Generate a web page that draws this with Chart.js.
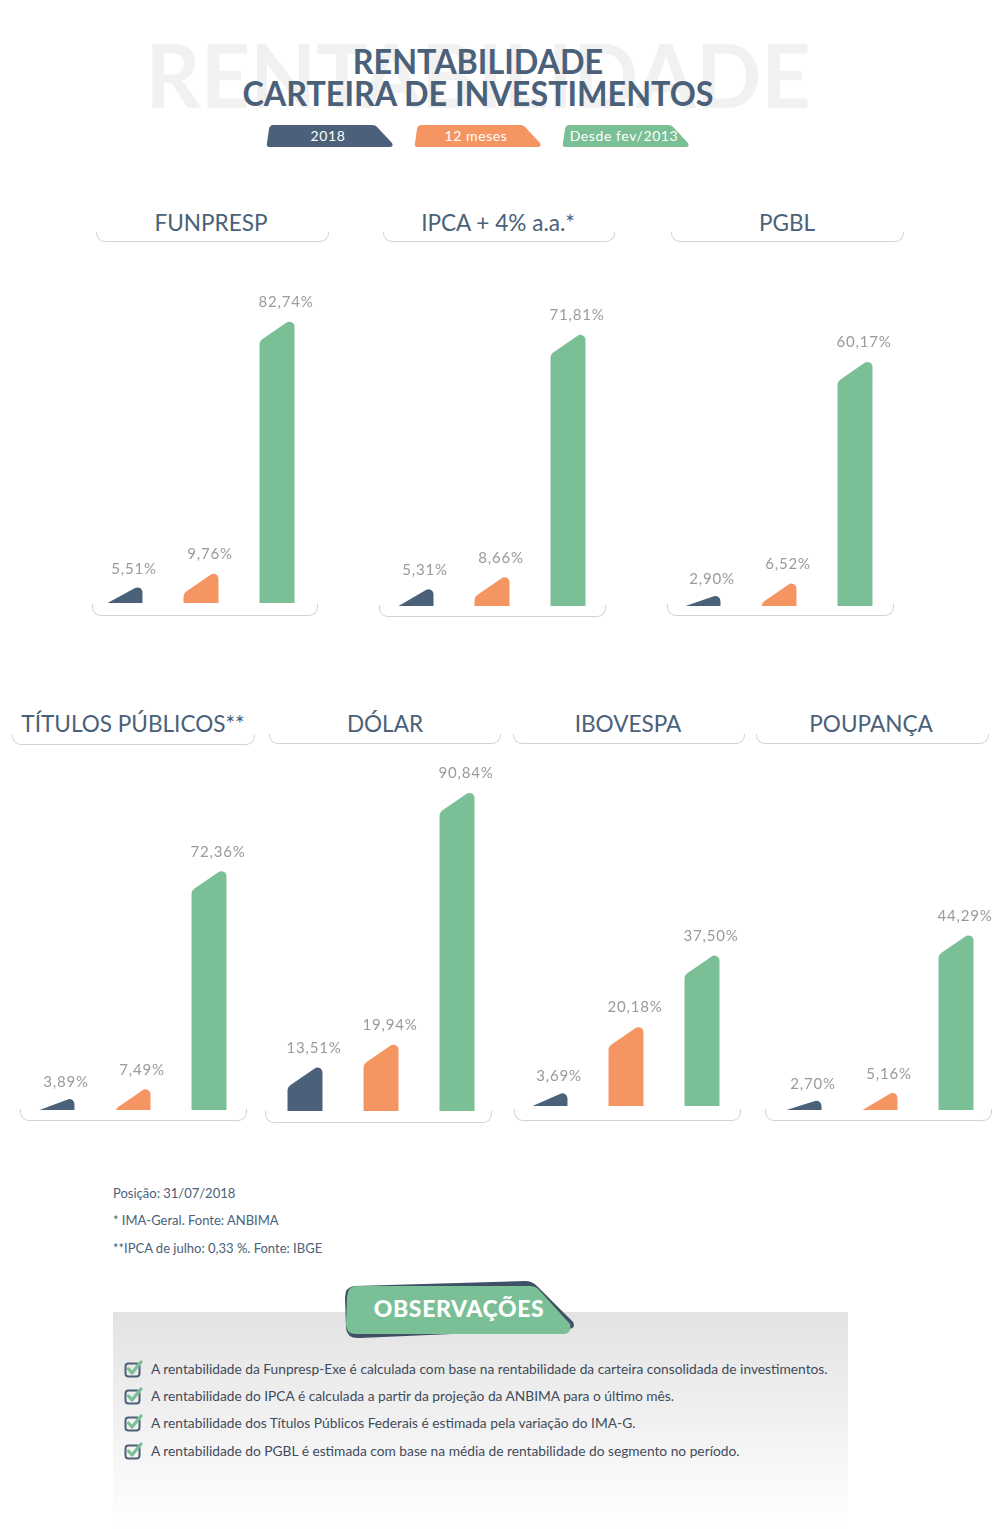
<!DOCTYPE html>
<html lang="pt-BR">
<head>
<meta charset="utf-8">
<title>Rentabilidade - Carteira de Investimentos</title>
<script src="https://cdn.jsdelivr.net/npm/chart.js@4.4.1/dist/chart.umd.min.js"></script>
<style>
  html, body { margin: 0; padding: 0; background: #fff; }
  #page { position: relative; width: 1000px; height: 1529px; overflow: hidden; font-family: Lato, sans-serif; }
  .abs { position: absolute; white-space: nowrap; }
  .watermark { left: 478px; top: 30px; font: 700 88px/88px Lato; color: #f1f1f1; transform: translateX(-50%) scaleX(0.975); }
  .title { left: 478px; font: 700 34px/34px Lato; color: #4a6179; transform: translateX(-50%) scaleX(0.95); }
  .pill { width: 127px; height: 22px; }
  .pill span { position: absolute; left: 0; width: 124px; top: 0; line-height: 22px; text-align: center; color: #fff; font: 400 14px/22px Lato; letter-spacing: 0.6px; }
  .ptitle { font: 400 24px/24px Lato; color: #4a6179; transform: translateX(-50%) scaleX(0.94); }
  .bracket { border: 1.5px solid #d2d2d2; border-top: none; border-radius: 0 0 9px 9px; box-sizing: border-box; }
  .note { font: 400 13px/14px Lato; color: #4a6179; left: 113px; }
  .obs { font: 400 13.75px/14px Lato; color: #3f4b5a; left: 151px; }
  #obsbox { left: 113px; top: 1312px; width: 735px; height: 217px; background: linear-gradient(#e3e3e3, #ffffff); }
  canvas { position: absolute; }
</style>
</head>
<body>
<div id="page">
  <div class="abs watermark">RENTABILIDADE</div>
  <div class="abs title" style="top:44px">RENTABILIDADE</div>
  <div class="abs title" style="top:76px">CARTEIRA DE INVESTIMENTOS</div>
  <div id="obsbox" class="abs"></div>
</div>
<script>
// legend / categories
const categories = ['2018', '12 meses', 'Desde fev/2013'];

// one entry per panel
const panelNames = ['FUNPRESP', 'IPCA + 4% a.a.*', 'PGBL', 'TÍTULOS PÚBLICOS**', 'DÓLAR', 'IBOVESPA', 'POUPANÇA'];
const values2018 = [5.51, 5.31, 2.90, 3.89, 13.51, 3.69, 2.70];
const values12Months = [9.76, 8.66, 6.52, 7.49, 19.94, 20.18, 5.16];
const valuesSince2013 = [82.74, 71.81, 60.17, 72.36, 90.84, 37.50, 44.29];

const notes = [
  'Posição: 31/07/2018',
  '* IMA-Geral. Fonte: ANBIMA',
  '**IPCA de julho: 0,33 %. Fonte: IBGE'
];
const observations = [
  'A rentabilidade da Funpresp-Exe é calculada com base na rentabilidade da carteira consolidada de investimentos.',
  'A rentabilidade do IPCA é calculada a partir da projeção da ANBIMA para o último mês.',
  'A rentabilidade dos Títulos Públicos Federais é estimada pela variação do IMA-G.',
  'A rentabilidade do PGBL é estimada com base na média de rentabilidade do segmento no período.'
];

const colors = ['#4a6179', '#f59562', '#7abf95'];

// layout of each panel (page pixels)
const layout = [
  { left: 86.5, base: 603, max: 110, titleX: 211, titleTop: 210, head: [96, 329, 242], foot: [92, 318, 616] },
  { left: 377.5, base: 606, max: 99, titleX: 498, titleTop: 210, head: [383, 615, 242], foot: [379, 606, 617] },
  { left: 665, base: 606, max: 92, titleX: 787, titleTop: 210, head: [671, 904, 242], foot: [667, 894, 616] },
  { left: 18.5, base: 1110, max: 113, titleX: 133, titleTop: 711, head: [12, 255, 745], foot: [20, 247, 1121] },
  { left: 266.5, base: 1111, max: 107, titleX: 385, titleTop: 711, head: [269, 501, 744], foot: [265, 492, 1123] },
  { left: 511.5, base: 1106, max: 92, titleX: 628, titleTop: 711, head: [513, 745, 744], foot: [514, 741, 1121] },
  { left: 765.5, base: 1110, max: 94, titleX: 871, titleTop: 711, head: [756, 989, 744], foot: [765, 992, 1121] }
];
const canvasHeight = 380;

const page = document.getElementById('page');

function addDiv(cls, style, html) {
  const d = document.createElement('div');
  d.className = 'abs ' + cls;
  d.setAttribute('style', style);
  if (html !== undefined) d.innerHTML = html;
  page.appendChild(d);
  return d;
}

// legend pills
const pillLeft = [266, 414, 562];
categories.forEach((c, i) => {
  addDiv('pill', `left:${pillLeft[i]}px;top:125px`,
    `<svg width="127" height="22" style="position:absolute;left:0;top:0">
      <path d="M7 0 L106 0 Q110 0 112 3 L126 18 Q128 22 123 22 L4 22 Q0 22 1 18 L3 4 Q4 0 7 0 Z" fill="${colors[i]}"/>
    </svg><span>${c}</span>`);
});

// bars with a slanted top-left corner, drawn from the bar elements
const slantedBars = {
  id: 'slantedBars',
  beforeDatasetDraw(chart, args) {
    const ctx = chart.ctx;
    args.meta.data.forEach((bar) => {
      const p = bar.getProps(['x', 'y', 'base', 'width'], true);
      const l = p.x - p.width / 2, r = p.x + p.width / 2;
      const h = p.base - p.y;
      const drop = Math.min(24, h);
      ctx.save();
      ctx.fillStyle = bar.options.backgroundColor;
      ctx.beginPath();
      ctx.moveTo(l, p.base);
      if (drop < h - 1) ctx.arcTo(l, p.y + drop, r, p.y, 7);
      ctx.arcTo(r, p.y, r, p.base, Math.min(5, h / 2));
      ctx.lineTo(r, p.base);
      ctx.closePath();
      ctx.fill();
      ctx.restore();
    });
    return false;
  },
  afterDatasetsDraw(chart) {
    const ctx = chart.ctx;
    const meta = chart.getDatasetMeta(0);
    const data = chart.data.datasets[0].data;
    ctx.save();
    ctx.font = '400 15px Lato';
    ctx.letterSpacing = '0.8px';
    ctx.fillStyle = '#9a9a9a';
    ctx.textAlign = 'center';
    ctx.textBaseline = 'middle';
    meta.data.forEach((bar, i) => {
      const txt = data[i].toFixed(2).replace('.', ',') + '%';
      ctx.fillText(txt, bar.x + 9, bar.y - 15);
    });
    ctx.restore();
  }
};

panelNames.forEach((name, i) => {
  const L = layout[i];
  addDiv('ptitle', `left:${L.titleX}px;top:${L.titleTop}px`, name);
  addDiv('bracket', `left:${L.head[0]}px;top:${L.head[2] - 10}px;width:${L.head[1] - L.head[0]}px;height:10px`);
  addDiv('bracket', `left:${L.foot[0]}px;top:${L.foot[2] - 12}px;width:${L.foot[1] - L.foot[0]}px;height:12px`);

  const canvas = document.createElement('canvas');
  canvas.width = 228;
  canvas.height = canvasHeight;
  canvas.style.left = L.left + 'px';
  canvas.style.top = (L.base - canvasHeight) + 'px';
  page.appendChild(canvas);

  new Chart(canvas, {
    type: 'bar',
    data: {
      labels: categories,
      datasets: [{
        data: [values2018[i], values12Months[i], valuesSince2013[i]],
        backgroundColor: colors,
        barPercentage: 0.46,
        categoryPercentage: 1
      }]
    },
    options: {
      responsive: false,
      animation: false,
      layout: { padding: 0 },
      plugins: { legend: { display: false }, tooltip: { enabled: false } },
      scales: {
        x: { display: false },
        y: { display: false, min: 0, max: L.max }
      }
    },
    plugins: [slantedBars]
  });
});

// footnotes
const noteY = [1193, 1220, 1248];
notes.forEach((n, i) => addDiv('note', `top:${noteY[i] - 7}px`, n));

// observations tab
addDiv('', 'left:340px;top:1278px;width:240px;height:64px',
  `<svg width="240" height="64">
    <path d="M14 8 L185 3 Q192 3 197 8 L233 44 Q236 50 229 51 L20 60 Q7 61 6 50 L5 20 Q5 9 14 8 Z" fill="#3f5166"/>
    <path d="M16 8 L190 8 Q196 8 200 13 L230 46 Q232 56 224 56 L16 56 Q6 56 6 46 L7 19 Q8 8 16 8 Z" fill="#7abf95"/>
  </svg>`);
addDiv('', 'left:459px;top:1296px;transform:translateX(-50%);font:900 23px/24px Lato;color:#fff;letter-spacing:0.6px', 'OBSERVAÇÕES');

const obsY = [1369, 1396, 1423, 1451];
observations.forEach((o, i) => {
  addDiv('', `left:124px;top:${obsY[i] - 10}px;width:20px;height:20px`,
    `<svg width="20" height="20">
      <rect x="1.5" y="4.5" width="14" height="13" rx="3" fill="none" stroke="#4a6179" stroke-width="2"/>
      <path d="M4.5 10 L8 14 L17 3" fill="none" stroke="#7abf95" stroke-width="3.2" stroke-linecap="round" stroke-linejoin="round"/>
    </svg>`);
  addDiv('obs', `top:${obsY[i] - 7}px`, o);
});
</script>
</body>
</html>
